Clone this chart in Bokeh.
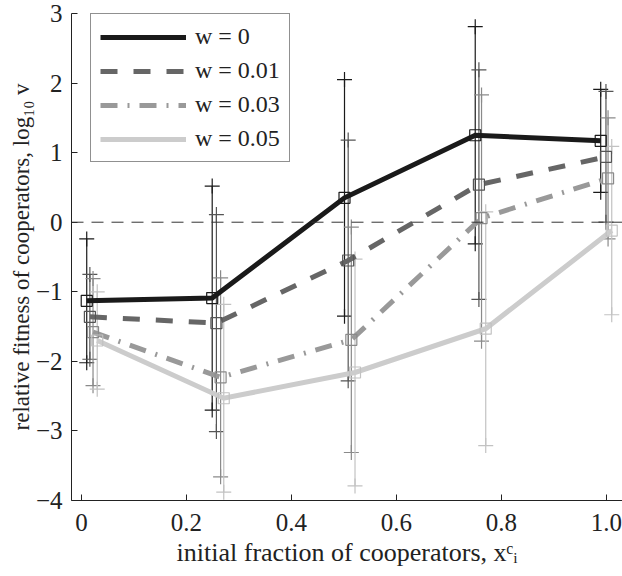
from bokeh.plotting import figure
from bokeh.models import Span, Legend, LegendItem, FixedTicker, ColumnDataSource
from bokeh.embed import file_html
from bokeh.resources import INLINE

# ---- data ----
series_labels = ["w = 0", "w = 0.01", "w = 0.03", "w = 0.05"]

x_w0 = [0.010, 0.249, 0.501, 0.750, 0.989]
x_w01 = [0.016, 0.257, 0.508, 0.757, 0.999]
x_w03 = [0.022, 0.265, 0.514, 0.762, 1.003]
x_w05 = [0.030, 0.271, 0.521, 0.770, 1.010]

y_w0 = [-1.13, -1.09, 0.35, 1.25, 1.17]
y_w01 = [-1.36, -1.45, -0.55, 0.54, 0.94]
y_w03 = [-1.58, -2.23, -1.69, 0.06, 0.63]
y_w05 = [-1.70, -2.53, -2.16, -1.53, -0.12]

err_w0 = [0.89, 1.61, 1.70, 1.56, 0.74]
err_w01 = [0.61, 1.56, 1.73, 1.65, 0.94]
err_w03 = [0.77, 1.43, 1.62, 1.77, 0.87]
err_w05 = [0.70, 1.35, 1.63, 1.68, 1.21]

x_ticks = [0, 0.2, 0.4, 0.6, 0.8, 1.0]
x_tick_labels = ["0", "0.2", "0.4", "0.6", "0.8", "1.0"]
y_ticks = [-4, -3, -2, -1, 0, 1, 2, 3]
y_tick_labels = ["\u22124", "\u22123", "\u22122", "\u22121", "0", "1", "2", "3"]

x_title = "initial fraction of cooperators, x\u1d9c\u1d62"
y_title = "relative fitness of cooperators, log\u2081\u2080 v"

# ---- styles ----
line_colors = ["#1a1a1a", "#666666", "#999999", "#cccccc"]
err_colors = ["#1a1a1a", "#555555", "#8a8a8a", "#c2c2c2"]
dashes = ["solid", "17 16", "17 10 2 10", "solid"]
FONT = "Liberation Serif"
TXT = "#222222"

p = figure(width=622, height=576, x_range=(-0.019, 1.0305), y_range=(-4, 3),
           output_backend="svg", toolbar_location=None,
           min_border_left=71, min_border_right=0, min_border_top=13, min_border_bottom=76)
p.outline_line_color = None
p.grid.grid_line_color = None
p.background_fill_color = "white"
p.border_fill_color = "white"

for ax in (p.xaxis[0], p.yaxis[0]):
    ax.axis_line_color = "#222222"
    ax.major_tick_line_color = "#222222"
    ax.major_tick_in = 6
    ax.major_tick_out = 0
    ax.minor_tick_line_color = None
    ax.major_label_text_font = FONT
    ax.major_label_text_font_size = "25px"
    ax.major_label_text_color = TXT
    ax.axis_label_text_font = FONT
    ax.axis_label_text_font_style = "normal"
    ax.axis_label_text_color = TXT

p.xaxis.ticker = FixedTicker(ticks=x_ticks)
p.xaxis.major_label_overrides = {t: l for t, l in zip(x_ticks, x_tick_labels)}
p.yaxis.ticker = FixedTicker(ticks=y_ticks)
p.yaxis.major_label_overrides = {t: l for t, l in zip(y_ticks, y_tick_labels)}
p.xaxis.axis_label = x_title
p.yaxis.axis_label = y_title
p.xaxis.axis_label_text_font_size = "26px"
p.yaxis.axis_label_text_font_size = "23px"
p.yaxis.major_label_standoff = 9
p.yaxis.axis_label_standoff = -1
p.xaxis.major_label_standoff = 13
p.xaxis.axis_label_standoff = 4

# zero reference line
p.add_layout(Span(location=0, dimension="width", line_color="#333333",
                  line_width=1, line_dash="12 8"))

xs = [x_w0, x_w01, x_w03, x_w05]
ys = [y_w0, y_w01, y_w03, y_w05]
errs = [err_w0, err_w01, err_w03, err_w05]

# error bars
for i in range(4):
    lo = [y - e for y, e in zip(ys[i], errs[i])]
    hi = [y + e for y, e in zip(ys[i], errs[i])]
    src = ColumnDataSource(dict(x=xs[i], lo=lo, hi=hi))
    p.segment(x0="x", y0="lo", x1="x", y1="hi", source=src,
              line_color=err_colors[i], line_width=1.2)
    p.scatter(x="x", y="lo", source=src, marker="cross", size=15,
              line_color=err_colors[i], line_width=1.2)
    p.scatter(x="x", y="hi", source=src, marker="cross", size=15,
              line_color=err_colors[i], line_width=1.2)

# main lines
renderers = []
for i in range(4):
    r = p.line(xs[i], ys[i], line_color=line_colors[i], line_width=5,
               line_dash=dashes[i], line_join="miter")
    renderers.append(r)

# square markers
for i in range(4):
    p.scatter(xs[i], ys[i], marker="square", size=11, fill_color=None,
              line_color=err_colors[i], line_width=1.2)

legend = Legend(items=[LegendItem(label=series_labels[i], renderers=[renderers[i]])
                       for i in range(4)],
                location=(19, 338))
legend.label_text_font = FONT
legend.label_text_font_size = "24px"
legend.label_text_color = TXT
legend.border_line_color = "#222222"
legend.border_line_width = 1
legend.background_fill_alpha = 1.0
legend.padding = 9
legend.spacing = 7
legend.glyph_width = 86
legend.glyph_height = 24
legend.label_height = 24
legend.label_standoff = 9
legend.margin = 0
p.add_layout(legend, "center")

open("out.html", "w").write(file_html(p, INLINE))
